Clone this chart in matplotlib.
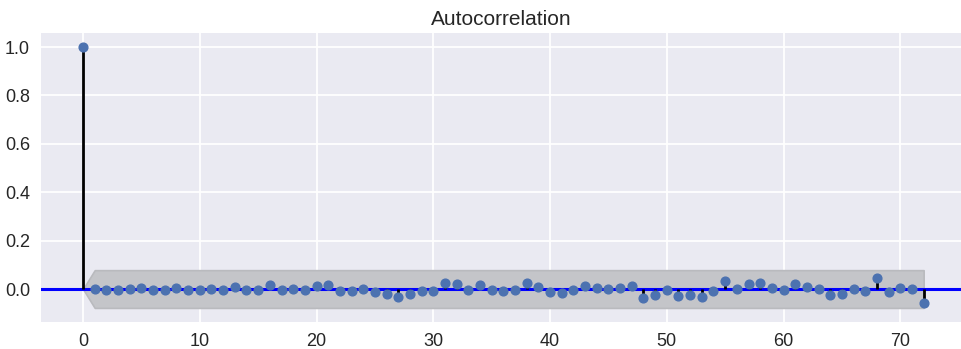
import numpy as np
import matplotlib
matplotlib.use('Agg')
import matplotlib.pyplot as plt

# autocorrelation values, lag 0..72
acfValues = [1.0,
             0.000, -0.002, -0.004, 0.000, 0.003, -0.005, -0.004, 0.005, -0.002, -0.003,
             0.001, -0.003, 0.008, -0.005, -0.002, 0.015, -0.005, 0.000, -0.003, 0.013,
             0.016, -0.008, -0.010, 0.000, -0.011, -0.022, -0.033, -0.021, -0.008, -0.010,
             0.025, 0.021, -0.006, 0.018, -0.003, -0.010, -0.004, 0.023, 0.008, -0.011,
             -0.017, -0.003, 0.011, 0.006, 0.000, 0.003, 0.011, -0.036, -0.025, -0.004,
             -0.028, -0.025, -0.032, -0.008, 0.033, 0.000, 0.019, 0.023, 0.006, -0.005,
             0.019, 0.008, -0.001, -0.025, -0.021, 0.000, -0.008, 0.044, -0.011, 0.003,
             0.001, -0.059]
confHalfWidth = 0.078
xTicks = [0, 10, 20, 30, 40, 50, 60, 70]
yTicks = [0.0, 0.2, 0.4, 0.6, 0.8, 1.0]

plt.rcParams['font.family'] = ['Liberation Sans', 'DejaVu Sans']

lags = np.arange(len(acfValues))
acf = np.array(acfValues)

# band is zero-width at lag 0 like statsmodels plot_acf
band = np.full(len(acf), confHalfWidth)
band[0] = 0.0

fig = plt.figure(figsize=(9.61, 3.49), dpi=100)
ax = fig.add_axes([41 / 961, 1 - 321.7 / 349, 1 - 41 / 961, (321.7 - 33.3) / 349])
ax.set_facecolor('#EAEAF2')
for s in ax.spines.values():
    s.set_visible(False)
ax.grid(True, color='white', linewidth=1.3)
ax.set_axisbelow(True)

ax.fill_between(lags, -band, band, facecolor='#C4C5C9', edgecolor='#B9BABE', linewidth=1.2, zorder=1)
ax.axhline(0, color='#0000FF', linewidth=2.2, zorder=2)
ax.vlines(lags, 0, acf, color='black', linewidth=2.0, zorder=3)
ax.plot(lags, acf, linestyle='None', marker='o', markersize=6.3, color='#4C72B0', zorder=4)

ax.set_xlim(-3.6, 75.2)
ax.set_ylim(-0.135, 1.057)
ax.set_xticks(xTicks)
ax.set_yticks(yTicks)
ax.set_yticklabels([f'{v:.1f}' for v in yTicks])
ax.tick_params(length=0, labelsize=13, labelcolor='#262626', pad=8)
ax.set_title('Autocorrelation', fontsize=15, color='#262626', pad=6)

fig.savefig('out.png', dpi=100)
